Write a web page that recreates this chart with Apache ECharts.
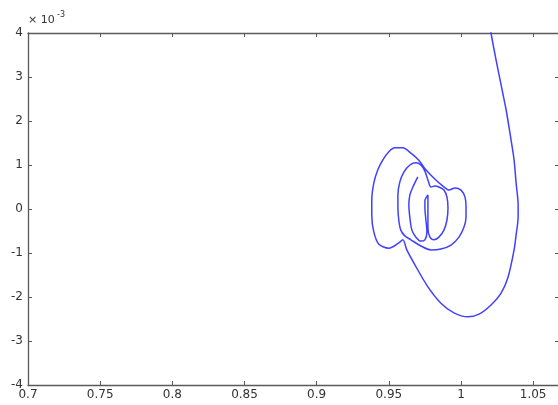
<!DOCTYPE html>
<html>
<head>
<meta charset="utf-8">
<script src="https://cdn.jsdelivr.net/npm/echarts@6/dist/echarts.min.js"></script>
<style>
html,body{margin:0;padding:0;background:#fff;}
#chart{width:558px;height:405px;}
</style>
</head>
<body>
<div id="chart"></div>
<script>
// Trajectory values (y in units of 1e-3)
var pathX = [
  1.0188,1.0208,1.0243,1.0278,1.0313,1.0347,1.0368,1.0382,1.0396,1.0396,1.0382,1.0368,1.0326,1.0278,1.0208,1.0125,1.0049,0.9951,0.9861,0.9771,0.9674,0.9625,0.9597,
  0.9569,0.9500,0.9431,0.9396,0.9382,0.9382,0.9396,0.9424,0.9458,0.9500,0.9542,0.9597,0.9653,0.9708,0.9757,0.9813,0.9875,0.9917,
  0.9958,1.0000,1.0028,1.0035,1.0035,1.0021,0.9986,0.9931,0.9861,0.9792,0.9722,0.9653,0.9611,
  0.9583,0.9569,0.9563,0.9563,0.9576,0.9604,0.9646,0.9688,0.9722,0.9750,0.9771,0.9792,
  0.9819,0.9847,0.9882,0.9903,0.9910,0.9903,0.9882,0.9847,0.9813,0.9785,0.9771,0.9771,0.9771,0.9771,0.9750,0.9750,0.9757,0.9764,0.9750,0.9722,
  0.9688,0.9660,0.9646,0.9639,0.9646,0.9667,0.9701
];
var pathY = [
  4.41,4.00,3.39,2.82,2.25,1.57,1.11,0.59,0.09,-0.18,-0.59,-0.93,-1.55,-1.91,-2.18,-2.39,-2.45,-2.36,-2.14,-1.77,-1.23,-0.93,-0.70,
  -0.77,-0.89,-0.80,-0.52,-0.14,0.20,0.59,0.89,1.11,1.30,1.39,1.39,1.27,1.11,0.89,0.70,0.52,0.43,
  0.48,0.43,0.27,0.05,-0.18,-0.41,-0.64,-0.82,-0.91,-0.93,-0.84,-0.70,-0.61,
  -0.48,-0.25,0.05,0.32,0.61,0.84,1.00,1.05,1.00,0.86,0.66,0.50,
  0.52,0.50,0.43,0.27,0.02,-0.25,-0.48,-0.64,-0.70,-0.64,-0.43,-0.14,0.09,0.32,0.18,0.02,-0.25,-0.52,-0.70,-0.73,
  -0.64,-0.48,-0.20,0.09,0.32,0.50,0.73
];
var xRange = [0.7, 1.07];
var yRange = [-4, 4];
var exponentLabel = '× 10';
var exponentPower = '-3';

var points = pathX.map(function (x, i) { return [x, pathY[i]]; });

var labelFont = { fontFamily: 'DejaVu Sans', fontSize: 12, color: '#333' };
var lineCol = '#5a5a5a';

function axisLineStyle() {
  return { show: true, onZero: false, lineStyle: { color: lineCol, width: 1.3 } };
}
function tickStyle(len) {
  return { show: true, inside: true, length: len || 4, lineStyle: { color: lineCol } };
}

var chart = echarts.init(document.getElementById('chart'));
chart.setOption({
  animation: false,
  backgroundColor: '#fff',
  grid: { left: 28, width: 534, top: 33, height: 352, containLabel: false, outerBoundsMode: 'none' },
  xAxis: [{
    type: 'value', position: 'bottom', min: xRange[0], max: xRange[1], interval: 0.05,
    axisLine: axisLineStyle(), axisTick: tickStyle(),
    splitLine: { show: false },
    axisLabel: Object.assign({ margin: 4, showMaxLabel: false,
      formatter: function (v) { return String(+v.toFixed(2)); } }, labelFont)
  }, {
    type: 'value', position: 'top', min: xRange[0], max: xRange[1], interval: 0.05,
    axisLine: axisLineStyle(), axisTick: tickStyle(),
    splitLine: { show: false },
    axisLabel: { show: false }
  }],
  yAxis: [{
    type: 'value', position: 'left', min: yRange[0], max: yRange[1], interval: 1,
    axisLine: axisLineStyle(), axisTick: tickStyle(),
    splitLine: { show: false },
    axisLabel: Object.assign({ margin: 5 }, labelFont)
  }, {
    type: 'value', position: 'right', min: yRange[0], max: yRange[1], interval: 1,
    axisLine: axisLineStyle(), axisTick: tickStyle(7),
    splitLine: { show: false },
    axisLabel: { show: false }
  }],
  graphic: [
    { type: 'text', left: 28, top: 15, style: { text: exponentLabel, font: '11px "DejaVu Sans"', fill: '#333' } },
    { type: 'text', left: 57, top: 11, style: { text: exponentPower, font: '8px "DejaVu Sans"', fill: '#333' } }
  ],
  series: [{
    type: 'line', xAxisIndex: 0, yAxisIndex: 0,
    data: points, showSymbol: false, symbol: 'none', smooth: 0.3,
    clip: true,
    lineStyle: { color: '#4040ff', width: 1.5 }
  }]
});
</script>
</body>
</html>
